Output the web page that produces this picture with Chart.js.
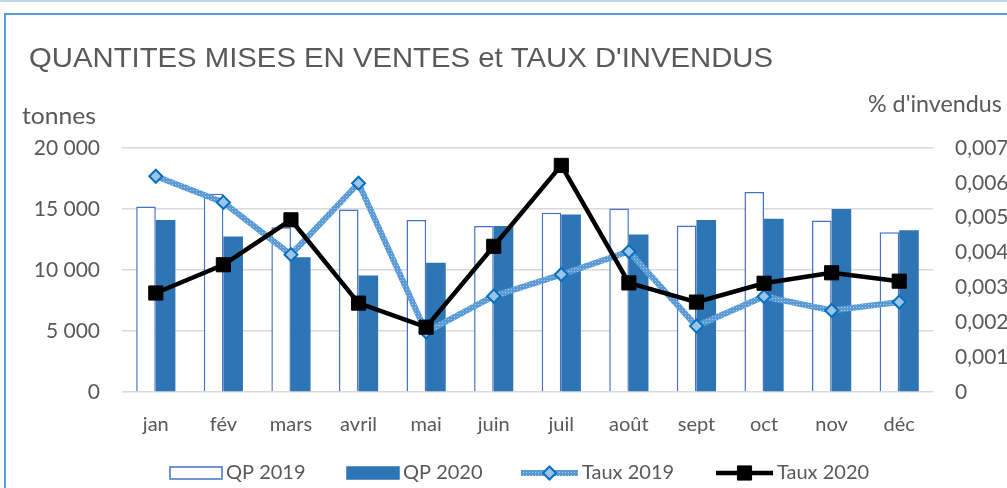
<!DOCTYPE html>
<html>
<head>
<meta charset="utf-8">
<script src="https://cdn.jsdelivr.net/npm/chart.js@4/dist/chart.umd.min.js"></script>
<style>
  html, body { margin: 0; padding: 0; background: #fff; overflow: hidden; }
  canvas { display: block; }
</style>
</head>
<body>
<canvas id="miGrafico" width="1007" height="488"></canvas>
<script>
// données
const mois = ['jan', 'fév', 'mars', 'avril', 'mai', 'juin', 'juil', 'août', 'sept', 'oct', 'nov', 'déc'];
const qp2019 = [15200, 16250, 13500, 14950, 14100, 13600, 14700, 15050, 13650, 16400, 14050, 13100];
const qp2020 = [14100, 12750, 11050, 9550, 10600, 13600, 14550, 12900, 14100, 14200, 15000, 13250];
const taux2019 = [0.00619, 0.00544, 0.00394, 0.00599, 0.00172, 0.00275, 0.00337, 0.00403, 0.00189, 0.00274, 0.00234, 0.00258];
const taux2020 = [0.00284, 0.00365, 0.00494, 0.00255, 0.00186, 0.00418, 0.00650, 0.00313, 0.00258, 0.00312, 0.00342, 0.00318];
const ticksTonnes = [0, 5000, 10000, 15000, 20000];
const ticksTaux = [0, 0.001, 0.002, 0.003, 0.004, 0.005, 0.006, 0.007];

const gris = '#595959';
const police = 'Lato, "Open Sans", sans-serif';

function formatTonnes(v) {
  return String(Math.round(v)).replace(/\B(?=(\d{3})+(?!\d))/g, ' ');
}
function formatTaux(v) {
  if (Math.abs(v) < 1e-9) return '0';
  return v.toFixed(3).replace('.', ',');
}

// trame pointillée de la ligne Taux 2019
function trame() {
  const c = document.createElement('canvas');
  c.width = 3; c.height = 3;
  const g = c.getContext('2d');
  g.fillStyle = '#5b9bd5';
  g.fillRect(0, 0, 3, 3);
  g.fillStyle = '#a9cbeb';
  g.fillRect(1, 1, 1, 1);
  return g.createPattern(c, 'repeat');
}

// texte étiré horizontalement
function texte(ctx, s, x, y, sx) {
  ctx.save();
  ctx.translate(x, y);
  ctx.scale(sx, 1);
  ctx.fillText(s, 0, 0);
  ctx.restore();
}

// cadre, titre, libellés d'axes et légende
const decor = {
  id: 'decor',
  beforeDraw(chart) {
    const ctx = chart.ctx;
    ctx.save();
    ctx.fillStyle = '#fff';
    ctx.fillRect(0, 0, chart.width, chart.height);
    ctx.strokeStyle = '#bdd7ee';
    ctx.lineWidth = 2;
    ctx.beginPath();
    ctx.moveTo(0, 1); ctx.lineTo(chart.width, 1);
    ctx.stroke();
    ctx.strokeStyle = '#5b9bd5';
    ctx.lineWidth = 2;
    ctx.beginPath();
    ctx.moveTo(5, chart.height); ctx.lineTo(5, 14); ctx.lineTo(chart.width, 14);
    ctx.stroke();
    ctx.restore();
  },
  afterDraw(chart) {
    const ctx = chart.ctx;
    ctx.save();
    ctx.fillStyle = gris;
    ctx.textBaseline = 'middle';
    ctx.font = '28px "Liberation Sans", Arial, sans-serif';
    const titre = 'QUANTITES MISES EN VENTES et TAUX D\'INVENDUS';
    texte(ctx, titre, 29, 59, 744 / ctx.measureText(titre).width);
    ctx.font = '24px ' + police;
    texte(ctx, 'tonnes', 22, 116, 74 / ctx.measureText('tonnes').width);
    texte(ctx, '% d\'invendus', 868, 104, 0.97);

    // légende
    const ds = chart.data.datasets;
    const pos = [170, 347, 521, 716];
    const y = 473;
    ctx.font = '20px ' + police;
    ds.forEach((d, i) => {
      const x = pos[i];
      let w;
      if (d.type === 'bar') {
        w = 52;
        ctx.fillStyle = d.backgroundColor;
        ctx.fillRect(x, y - 6, w, 12);
        ctx.strokeStyle = d.borderColor;
        ctx.lineWidth = 1.5;
        ctx.strokeRect(x, y - 6, w, 12);
      } else {
        w = 57;
        ctx.strokeStyle = d.borderColor;
        ctx.lineWidth = d.borderWidth;
        ctx.beginPath();
        ctx.moveTo(x, y); ctx.lineTo(x + w, y);
        ctx.stroke();
        ctx.fillStyle = d.pointBackgroundColor;
        ctx.strokeStyle = d.pointBorderColor;
        ctx.lineWidth = d.pointBorderWidth;
        ctx.beginPath();
        const cx = x + w / 2;
        if (d.pointStyle === 'rectRot') {
          const r = d.pointRadius;
          ctx.moveTo(cx - r, y); ctx.lineTo(cx, y - r);
          ctx.lineTo(cx + r, y); ctx.lineTo(cx, y + r);
          ctx.closePath();
        } else {
          const s = Math.SQRT1_2 * d.pointRadius;
          ctx.rect(cx - s, y - s, 2 * s, 2 * s);
        }
        ctx.fill();
        ctx.stroke();
      }
      ctx.fillStyle = gris;
      ctx.fillText(d.label, x + w + 4, y);
    });
    ctx.restore();
  }
};

const ctx = document.getElementById('miGrafico');
const chart = new Chart(ctx, {
  data: {
    labels: mois,
    datasets: [
      {
        type: 'bar',
        label: 'QP 2019',
        data: qp2019,
        backgroundColor: '#ffffff',
        borderColor: '#4472c4',
        borderWidth: 1.5,
        yAxisID: 'y',
        barPercentage: 1,
        categoryPercentage: 0.58,
        order: 3
      },
      {
        type: 'bar',
        label: 'QP 2020',
        data: qp2020,
        backgroundColor: '#2e75b6',
        borderColor: '#2e75b6',
        borderWidth: 0,
        yAxisID: 'y',
        barPercentage: 1,
        categoryPercentage: 0.58,
        order: 4
      },
      {
        type: 'line',
        label: 'Taux 2019',
        data: taux2019,
        borderColor: trame(),
        borderWidth: 6,
        pointStyle: 'rectRot',
        pointRadius: 6.5,
        pointBackgroundColor: '#9dc3e6',
        pointBorderColor: '#0070c0',
        pointBorderWidth: 2,
        tension: 0,
        yAxisID: 'y1',
        order: 2
      },
      {
        type: 'line',
        label: 'Taux 2020',
        data: taux2020,
        borderColor: '#000000',
        borderWidth: 4.5,
        pointStyle: 'rect',
        pointRadius: 10,
        pointBackgroundColor: '#000000',
        pointBorderColor: '#000000',
        pointBorderWidth: 1,
        tension: 0,
        yAxisID: 'y1',
        order: 1
      }
    ]
  },
  options: {
    responsive: false,
    animation: false,
    layout: { padding: { top: 148, left: 0, right: 0, bottom: 0 } },
    scales: {
      x: {
        grid: { display: false, drawTicks: false },
        border: { display: false },
        ticks: { color: gris, font: { family: police, size: 20 }, padding: 21 },
        afterFit(scale) { scale.height = 96; }
      },
      y: {
        position: 'left',
        min: 0,
        max: 20000,
        afterBuildTicks(scale) { scale.ticks = ticksTonnes.map(v => ({ value: v })); },
        grid: { color: '#d9d9d9', lineWidth: 1.5, drawTicks: false },
        border: { display: false },
        ticks: { color: gris, font: { family: police, size: 21 }, padding: 22, callback: formatTonnes },
        afterFit(scale) { scale.width = 122; }
      },
      y1: {
        position: 'right',
        min: 0,
        max: 0.007,
        afterBuildTicks(scale) { scale.ticks = ticksTaux.map(v => ({ value: v })); },
        grid: { display: false, drawTicks: false },
        border: { display: false },
        ticks: { color: gris, font: { family: police, size: 21 }, padding: 22, callback: formatTaux },
        afterFit(scale) { scale.width = 74; }
      }
    },
    plugins: {
      legend: { display: false },
      title: { display: false },
      tooltip: { enabled: false }
    }
  },
  plugins: [decor]
});
</script>
</body>
</html>
